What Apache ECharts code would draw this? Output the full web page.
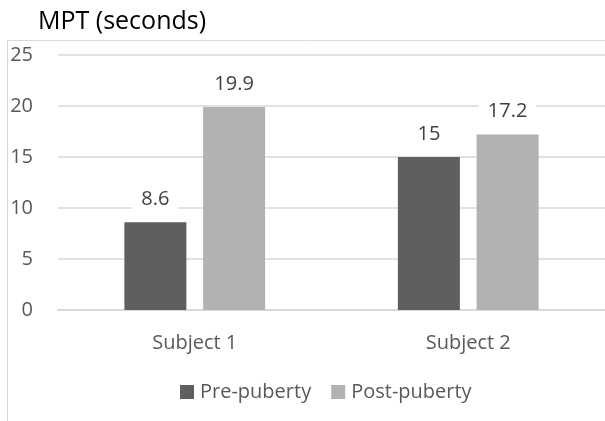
<!DOCTYPE html>
<html><head><meta charset="utf-8">
<script src="https://cdn.jsdelivr.net/npm/echarts@6/dist/echarts.min.js"></script>
<style>html,body{margin:0;padding:0;background:#fff}#c{width:605px;height:421px}</style>
</head><body><div id="c"></div>
<script>
const categories = ["Subject 1", "Subject 2"];
const prePuberty = [8.6, 15];
const postPuberty = [19.9, 17.2];
const seriesNames = ["Pre-puberty", "Post-puberty"];
const yTicks = [0, 5, 10, 15, 20, 25];

const font = "'Open Sans', 'Noto Sans', sans-serif";
const chart = echarts.init(document.getElementById('c'), null, {renderer: 'canvas'});
const labelStyle = {
  show: true, position: 'top', distance: 13,
  fontFamily: font, fontSize: 20, color: '#404040',
  backgroundColor: '#fff', padding: [0, 9]
};
chart.setOption({
  animation: false,
  graphic: [{
    type: 'rect', shape: {x: 7.5, y: 40.5, width: 700, height: 500},
    style: {fill: 'none', stroke: '#d9d9d9', lineWidth: 1}, z: -1
  }],
  title: {
    text: 'MPT (seconds)', left: 33, top: 4,
    textStyle: {fontFamily: font, fontSize: 25, fontWeight: 'normal', color: '#000'}
  },
  legend: {
    data: seriesNames, top: 382, left: 180, padding: 0,
    itemWidth: 14, itemHeight: 14, itemGap: 20, icon: 'rect',
    textStyle: {fontFamily: font, fontSize: 20, color: '#595959', padding: [0, 0, 0, 1]}
  },
  grid: {left: 58, width: 554, top: 55, bottom: 111, containLabel: false},
  xAxis: {
    type: 'category', data: categories,
    axisLine: {lineStyle: {color: '#d9d9d9', width: 2}},
    axisTick: {show: false},
    axisLabel: {fontFamily: font, fontSize: 20, color: '#595959', margin: 23}
  },
  yAxis: {
    type: 'value', min: yTicks[0], max: yTicks[yTicks.length - 1], interval: 5,
    axisLine: {show: false}, axisTick: {show: false},
    splitLine: {lineStyle: {color: '#d9d9d9', width: 1.5}},
    axisLabel: {fontFamily: font, fontSize: 20, color: '#595959', margin: 25}
  },
  series: [
    {name: seriesNames[0], type: 'bar', data: prePuberty, barWidth: 62, barGap: '27%',
     itemStyle: {color: '#5f5f5f'}, label: labelStyle},
    {name: seriesNames[1], type: 'bar', data: postPuberty, barWidth: 62,
     itemStyle: {color: '#b2b2b2'}, label: labelStyle}
  ]
});
</script></body></html>
